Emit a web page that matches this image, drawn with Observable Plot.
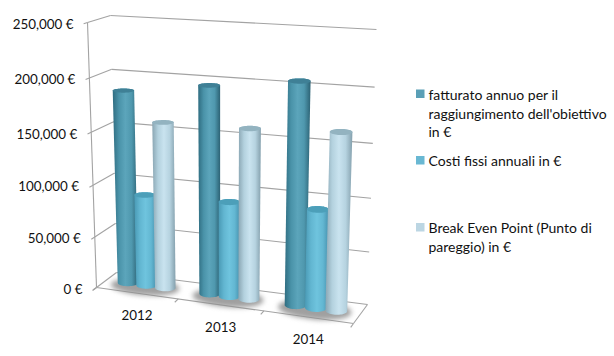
<!DOCTYPE html>
<html><head><meta charset="utf-8">
<script src="https://cdn.jsdelivr.net/npm/d3@7"></script>
<script src="https://cdn.jsdelivr.net/npm/@observablehq/plot@0.6"></script>
<style>html,body{margin:0;padding:0;background:#fff}svg{display:block}</style>
</head><body><div id="chart"></div>
<script>
const years = ["2012", "2013", "2014"];
const fatturato = [186000, 197000, 207000];
const costiFissi = [89000, 91000, 93000];
const breakEven = [159500, 161000, 165000];
const valueTicks = [0, 50000, 100000, 150000, 200000, 250000];
const legendNames = ["fatturato annuo per il\nraggiungimento dell'obiettivo\nin €", "Costi fissi annuali in €", "Break Even Point (Punto di\npareggio) in €"];
const maxValue = 250000;

// 3-D box of the chart as seen by the camera
const box = {
  flb: [96, 287], blb: [116, 272], brb: [367, 304], frb: [353, 323],
  flt: [87, 22], blt: [110, 15], brt: [376, 29], frt: [362, 42]
};
const warpU = u => u / (1 + 0.07 * (1 - u));
const warpV = v => v / (1 + 0.06 * (1 - v));
const mix = (a, b, t) => [a[0] + (b[0] - a[0]) * t, a[1] + (b[1] - a[1]) * t];
function project(u, w, value) {
  const gu = warpU(u), fv = warpV(value / maxValue);
  const bottom = mix(mix(box.flb, box.frb, gu), mix(box.blb, box.brb, gu), w);
  const top = mix(mix(box.flt, box.frt, gu), mix(box.blt, box.brt, gu), w);
  return mix(bottom, top, fv);
}
const barStep = 0.077, radU = 0.039, radW = 0.2;
const ring = (uc, wc, ru, rw, value) => d3.range(0, 48).map(i => {
  const t = i / 48 * 2 * Math.PI;
  return project(uc + ru * Math.cos(t), wc + rw * Math.sin(t), value);
});
const close = p => [...p, p[0]];

const series = [
  {values: fatturato, grad: "g0", cap: "#3f8096"},
  {values: costiFissi, grad: "g1", cap: "#4c9fb9"},
  {values: breakEven, grad: "g2", cap: "#93b3c0"}
];
const stops = {
  g0: ["#2f6d81", "#4a93a9", "#5ca5bb", "#4f98ae", "#2c6274"],
  g1: ["#4a9ab5", "#62b6d1", "#6fc4de", "#63b7d2", "#4590ad"],
  g2: ["#8aa6b3", "#b3d1de", "#c9e3ef", "#b6d3e0", "#84a0ad"]
};
const defs = () => {
  const d = d3.create("svg:defs");
  for (const [id, cols] of Object.entries(stops)) {
    const g = d.append("linearGradient").attr("id", id);
    cols.forEach((c, i) => g.append("stop").attr("offset", i / (cols.length - 1)).attr("stop-color", c));
  }
  return d.node();
};
const polyMark = (pts, fill, extra = {}) => Plot.line(close(pts), {x: d => d[0], y: d => d[1], fill, stroke: "none", curve: "linear", ...extra});

const grid = "#a3a3a3";
const seg = (a, b) => ({a, b});
const lines = [
  ...valueTicks.map(v => seg(project(0, 1, v), project(1, 1, v))),
  ...valueTicks.map(v => seg(project(0, 0, v), project(0, 1, v))),
  ...valueTicks.map(v => seg(project(0, -0.17, v), project(0, 0, v))),
  seg(project(0, 0, 0), project(0, 0, maxValue)),
  seg(project(0, 0, 0), project(1, 0, 0)),
  seg(project(1, 0, 0), project(1, 1, 0)),
  ...[0, 1, 2, 3].map(i => seg(project(i / 3, 0, 0), project(i / 3, -0.2, 0)))
];

const marks = [defs];
marks.push(Plot.link(lines, {x1: d => d.a[0], y1: d => d.a[1], x2: d => d.b[0], y2: d => d.b[1], stroke: grid, strokeWidth: 1.1}));
years.forEach((y, i) => {
  marks.push(polyMark(ring((i + 0.5) / 3, 0.42, 0.135, 0.5, 0), "#8f8f8f", {imageFilter: "blur(2.5px)", fillOpacity: 0.85}));
});
series.forEach((s, si) => {
  s.values.forEach((val, i) => {
    const uc = (i + 0.5) / 3 + (si - 1) * barStep;
    const body = d3.polygonHull([...ring(uc, 0.5, radU, radW, 0), ...ring(uc, 0.5, radU, radW, val)]);
    marks.push(polyMark(body, `url(#${s.grad})`));
    marks.push(polyMark(ring(uc, 0.5, radU, radW, val), s.cap));
  });
});
// axis labels
marks.push(Plot.text(valueTicks, {
  x: v => project(0, 0, v)[0] - 14, y: v => project(0, 0, v)[1] + 2,
  text: v => d3.format(",")(v) + " €", textAnchor: "end", fontSize: 13.4, fill: "#111"
}));
marks.push(Plot.text(years, {
  x: (d, i) => project((i + 0.5) / 3, 0, 0)[0], y: (d, i) => project((i + 0.5) / 3, 0, 0)[1] + 22.5,
  text: d => d, fontSize: 13.4, fill: "#111"
}));
// legend
const legend = [
  {name: legendNames[0], col: "#5a9fb6", top: 89.5, ty: 95},
  {name: legendNames[1], col: "#69b8d3", top: 156, ty: 161},
  {name: legendNames[2], col: "#bcd6e3", top: 223, ty: 228}
];
marks.push(Plot.rect(legend, {x1: () => 416, x2: () => 424.5, y1: d => d.top, y2: d => d.top + 8.5, fill: d => d.col}));
marks.push(Plot.text(legend, {
  x: () => 428, y: d => d.ty - 8.5, text: d => d.name, textAnchor: "start", lineAnchor: "top",
  lineHeight: 1.32, fontSize: 14, fill: "#111"
}));

const plot = Plot.plot({
  width: 614, height: 356, margin: 0,
  style: {fontFamily: "Lato, sans-serif", background: "#fff"},
  x: {domain: [0, 614], range: [0, 614], axis: null},
  y: {domain: [0, 356], range: [0, 356], axis: null},
  color: {type: "identity"},
  marks
});
document.getElementById("chart").append(plot);
</script></body></html>
